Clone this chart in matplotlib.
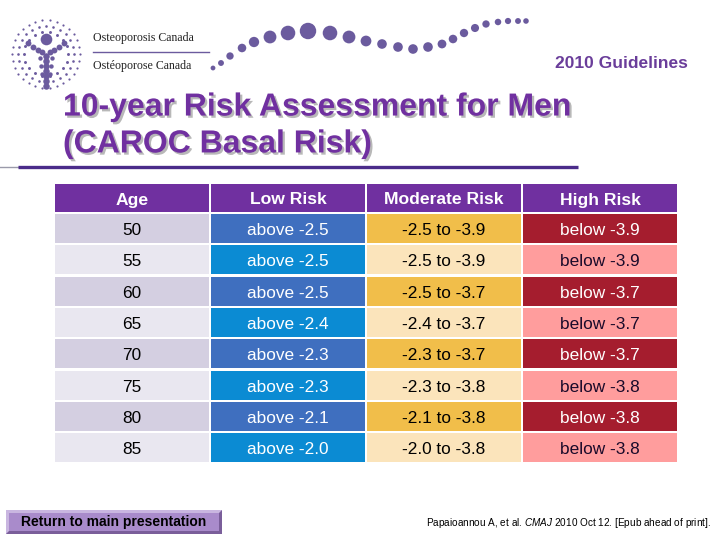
import numpy as np
import matplotlib.pyplot as plt
import matplotlib.patheffects as pe
from matplotlib.patches import Rectangle, Polygon

# table data
ages = [50, 55, 60, 65, 70, 75, 80, 85]
low_cut = ["-2.5", "-2.5", "-2.5", "-2.4", "-2.3", "-2.3", "-2.1", "-2.0"]
high_cut = ["-3.9", "-3.9", "-3.7", "-3.7", "-3.7", "-3.8", "-3.8", "-3.8"]
headers = ["Age", "Low Risk", "Moderate Risk", "High Risk"]

# colours per column: (odd row, even row), text colours
fill_odd = ["#D4CFE1", "#3F6FBF", "#F1BE4A", "#A51D2E"]
fill_even = ["#E9E7F0", "#0B8BD3", "#FBE4BB", "#FF9D9D"]
txt_odd = ["black", "white", "black", "white"]
txt_even = ["black", "white", "black", "#1a0a2a"]

purple = "#7030A0"
dotc = "#6B5B9E"

plt.rcParams['font.family'] = ['Liberation Sans', 'DejaVu Sans']
plt.rcParams['mathtext.fontset'] = 'custom'
plt.rcParams['mathtext.rm'] = 'Liberation Sans'
plt.rcParams['mathtext.it'] = 'Liberation Sans:italic'

fig = plt.figure(figsize=(7.2, 5.4), dpi=100)
ax = fig.add_axes([0, 0, 1, 1])
ax.set_xlim(0, 720)
ax.set_ylim(540, 0)
ax.axis('off')

# ---- logo emblem (decoration) ----
cx, cy = 46, 54
for r, n, s in [(34, 30, 2.5), (28, 24, 3.5), (22, 18, 4.5)]:
    th = np.linspace(0, 2 * np.pi, n, endpoint=False)
    ax.scatter(cx + r * np.cos(th), cy + r * np.sin(th), s=s, color=dotc, lw=0)
# figure: head, arms, body
ax.scatter([46], [39], s=70, color=dotc, lw=0)
arm_x = [28, 33, 38, 42, 50, 54, 59, 64]
arm_y = [43, 47, 50, 52, 52, 50, 47, 43]
ax.scatter(arm_x, arm_y, s=18, color=dotc, lw=0)
body_y = [56, 61, 66, 71, 76, 81, 86]
ax.scatter([46] * len(body_y), body_y, s=22, color=dotc, lw=0)
ax.scatter([40, 52, 41, 51, 42, 50], [58, 58, 66, 66, 74, 74], s=10, color=dotc, lw=0)

ax.text(93, 38, "Osteoporosis Canada", fontsize=8.6, family='Liberation Serif',
        color="#222222", va='center', ha='left')
ax.plot([93, 209], [52, 52], color=dotc, lw=1)
ax.text(93, 66, "Ostéoporose Canada", fontsize=8.6, family='Liberation Serif',
        color="#222222", va='center', ha='left')

# wave of dots
wave_x = [213, 221, 230, 242, 254, 270, 288, 308, 330, 349, 366, 382, 398, 413,
          428, 442, 453, 464, 475, 486, 498, 508, 518, 526]
wave_y = [68, 63, 56, 48, 42, 37, 33, 31, 33, 37, 41, 44, 47, 49,
          47, 44, 39, 33, 28, 24, 22, 21, 21, 21]
wave_s = [12, 18, 28, 38, 55, 85, 110, 140, 110, 85, 60, 48, 48, 48,
          48, 40, 38, 36, 34, 28, 22, 20, 18, 16]
ax.scatter(wave_x, wave_y, s=wave_s, color=dotc, lw=0)

ax.text(688, 64, "2010 Guidelines", fontsize=12.5, fontweight='bold',
        color="#6A3D9A", ha='right', va='center')

# ---- title (with drop shadow) ----
shadow = [pe.SimplePatchShadow(offset=(1.6, -1.6), shadow_rgbFace="#B8B8B8", alpha=1),
          pe.Normal()]
ax.text(63, 126, "10-year Risk Assessment for Men\n(CAROC Basal Risk)", fontsize=23,
        fontweight='bold', color=purple, ha='left', va='center',
        linespacing=1.3, path_effects=shadow)
ax.plot([0, 18], [167, 167], color="#9A9AAA", lw=1)
ax.plot([18, 578], [167, 167], color="#4B2C8A", lw=2.4, solid_capstyle='butt')

# ---- table ----
col_x = [55, 211, 367, 523]
cw = 154
head_top, head_h = 184, 28
row_top0, row_pitch, row_h = 214, 31.3, 29

for j, h in enumerate(headers):
    ax.add_patch(Rectangle((col_x[j], head_top), cw, head_h, color=purple, lw=0))
    ax.text(col_x[j] + cw / 2, head_top + head_h / 2 + 0.5, h, fontsize=12.6,
            fontweight='bold', color='white', ha='center', va='center_baseline')

for i, age in enumerate(ages):
    cells = [str(age), f"above {low_cut[i]}", f"{low_cut[i]} to {high_cut[i]}",
             f"below {high_cut[i]}"]
    top = row_top0 + i * row_pitch
    odd = i % 2 == 0
    for j, t in enumerate(cells):
        fc = fill_odd[j] if odd else fill_even[j]
        tc = txt_odd[j] if odd else txt_even[j]
        ax.add_patch(Rectangle((col_x[j], top), cw, row_h, color=fc, lw=0))
        ax.text(col_x[j] + cw / 2, top + row_h / 2 + 0.5, t, fontsize=12.4,
                color=tc, ha='center', va='center_baseline')

# ---- button ----
bx, by, bw, bh = 6, 510, 216, 24
ax.add_patch(Rectangle((bx, by), bw, bh, color="#7A5E9A", lw=0))
ax.add_patch(Polygon([(bx, by), (bx + bw, by), (bx + bw - 3, by + 3),
                      (bx + 3, by + 3), (bx + 3, by + bh - 3), (bx, by + bh)],
                     color="#C9B6E0", lw=0))
ax.add_patch(Rectangle((bx + 3, by + 3), bw - 6, bh - 6, color="#A98BCB", lw=0))
ax.text(bx + bw / 2, by + bh / 2, "Return to main presentation", fontsize=10,
        fontweight='bold', color='black', ha='center', va='center')

ax.text(711, 523, r"Papaioannou A, et al. $\mathit{CMAJ}$ 2010 Oct 12. [Epub ahead of print].",
        fontsize=7.2, color='black', ha='right', va='center')

fig.savefig("out.png", dpi=100)
